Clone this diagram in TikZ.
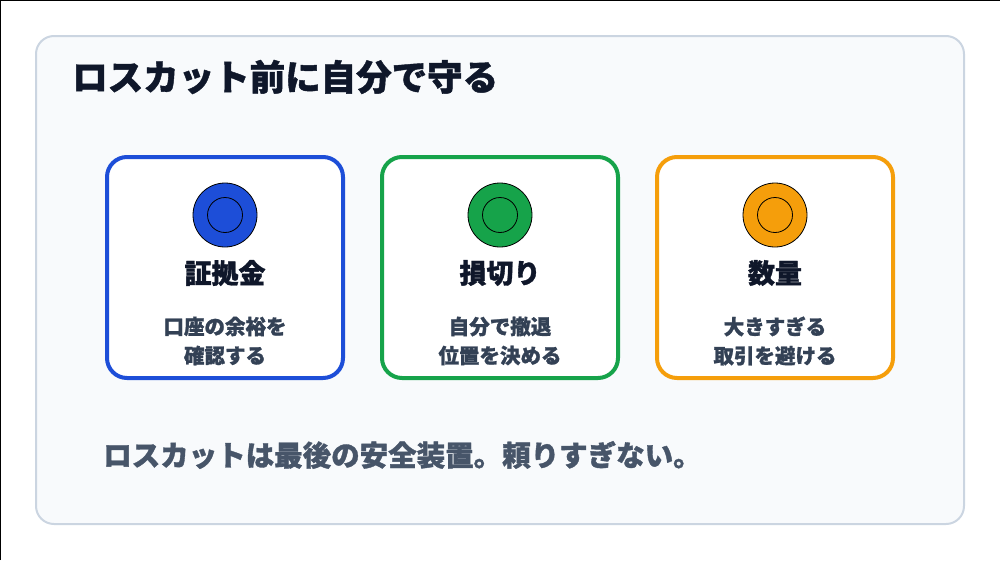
\documentclass[tikz,border=0pt]{standalone}
\usepackage{fontspec}
\setmainfont{Noto Sans CJK JP}[BoldFeatures={FakeBold=1.2}]
\usetikzlibrary{positioning}
\definecolor{ink}{HTML}{0F172A}
\definecolor{slate}{HTML}{334155}
\definecolor{muted}{HTML}{475569}
\definecolor{panelbg}{HTML}{F8FAFC}
\definecolor{panelrim}{HTML}{CBD5E1}
\definecolor{cblue}{HTML}{1D4ED8}
\definecolor{cgreen}{HTML}{16A34A}
\definecolor{corange}{HTML}{F59E0B}
\tikzset{
  card/.style ={rectangle, draw=#1, line width=4pt, fill=white,
                rounded corners=20pt, minimum width=236pt, minimum height=221pt},
  dot/.style  ={circle, draw=black, line width=0.8pt, fill=#1,
                minimum size=64pt, inner sep=0pt},
  ring/.style ={circle, draw=black, line width=0.8pt, minimum size=35pt, inner sep=0pt},
  head/.style ={font=\bfseries\fontsize{27}{32}\selectfont, text=ink, inner sep=0pt},
  desc/.style ={font=\bfseries\fontsize{20.5}{29}\selectfont, text=slate, align=center, inner sep=0pt}
}

\begin{document}
\begin{tikzpicture}[x=1pt, y=-1pt]
  \useasboundingbox (0,0) rectangle (1000,560);
  \draw[black, line width=1pt] (0.5,560) -- (0.5,0.5) -- (1000,0.5);
  % outer panel
  \draw[draw=panelrim, fill=panelbg, line width=2pt, rounded corners=18pt] (36,36) rectangle (964,524);
  \node[anchor=west, font=\bfseries\fontsize{35.5}{40}\selectfont, text=ink, inner sep=0pt] (title) at (72,77) {ロスカット前に自分で守る};

  % cards
  \node[card=cblue] (margin) at (225,267.5) {};
  \node[card=cgreen, right=35pt of margin] (stop) {};
  \node[card=corange, right=35pt of stop] (size) {};

  \node[dot=cblue] (dotA) at ([yshift=52.5pt]margin.center) {};
  \node[dot=cgreen] (dotB) at ([yshift=52.5pt]stop.center) {};
  \node[dot=corange] (dotC) at ([yshift=52.5pt]size.center) {};
  \node[ring] (ringA) at (dotA.center) {};
  \node[ring] (ringB) at (dotB.center) {};
  \node[ring] (ringC) at (dotC.center) {};

  \node[head] (headA) at ([yshift=-5.5pt]margin.center) {証拠金};
  \node[head] (headB) at ([yshift=-5.5pt]stop.center) {損切り};
  \node[head] (headC) at ([yshift=-5.5pt]size.center) {数量};

  \node[desc] (descA) at ([yshift=-73.5pt]margin.center) {口座の余裕を\\確認する};
  \node[desc] (descB) at ([yshift=-73.5pt]stop.center) {自分で撤退\\位置を決める};
  \node[desc] (descC) at ([yshift=-73.5pt]size.center) {大きすぎる\\取引を避ける};

  \node[anchor=west, font=\bfseries\fontsize{28.5}{34}\selectfont, text=muted, inner sep=0pt] (note) at (103,455) {ロスカットは最後の安全装置。頼りすぎない。};
\end{tikzpicture}
\end{document}
